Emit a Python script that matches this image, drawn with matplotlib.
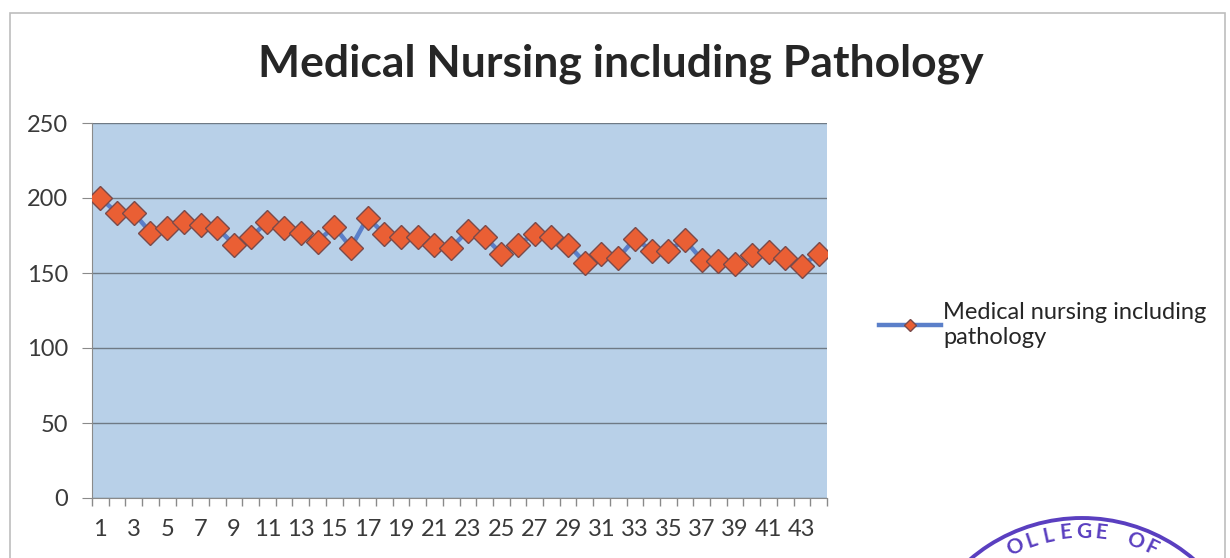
import matplotlib
matplotlib.use("Agg")
import matplotlib.pyplot as plt
from matplotlib.patches import Rectangle, Arc
import numpy as np

plt.rcParams['font.family'] = ['Lato', 'DejaVu Sans']

title = "Medical Nursing including Pathology"
series_name = "Medical nursing including\npathology"
categories = list(range(1, 45))
values = [200, 190, 190, 177, 180, 184, 182, 180, 169, 174,
          184, 180, 177, 171, 181, 167, 187, 176, 174, 174,
          169, 167, 178, 174, 163, 169, 176, 174, 169, 157,
          163, 160, 173, 165, 165, 172, 159, 158, 156, 162,
          164, 160, 155, 163]
yticks = [0, 50, 100, 150, 200, 250]

fig = plt.figure(figsize=(12.3, 5.58), dpi=100)
fig.patch.set_facecolor('white')

# outer chart border
fig.patches.append(Rectangle((10/1230, -0.02), 1215/1230, (558-13)/558 + 0.02,
                             transform=fig.transFigure, fill=False,
                             edgecolor='#bdbdbd', linewidth=1.2))

ax = fig.add_axes([92/1230, (558-498)/558, (827-92)/1230, (498-123)/558])
ax.set_facecolor('#b8d0e8')

x = np.arange(len(categories))
line, = ax.plot(x, values, color='#5b7fc9', linewidth=3.2, marker='D',
                markersize=12, markerfacecolor='#ea5f34',
                markeredgecolor='#7a4a4a', markeredgewidth=1.0,
                label=series_name, zorder=3)

ax.set_xlim(-0.5, len(categories) - 0.5)
ax.set_ylim(0, 250)
ax.set_yticks(yticks)
ax.set_yticklabels([str(v) for v in yticks])
ax.yaxis.grid(True, color='#6f7a85', linewidth=1.0)
ax.set_axisbelow(True)

# category ticks at boundaries, labels every other category
ax.set_xticks(np.arange(-0.5, len(categories) + 0.5, 1.0), minor=True)
ax.set_xticks(x[::2])
ax.set_xticklabels([str(c) for c in categories[::2]])
ax.tick_params(axis='x', which='major', length=0, labelsize=17,
               colors='#3a3a3a', pad=15)
ax.tick_params(axis='x', which='minor', length=6, color='#8a8a8a', width=1)
ax.tick_params(axis='y', length=7, color='#8a8a8a', labelsize=17,
               colors='#3a3a3a', pad=10)

for s in ['top', 'right']:
    ax.spines[s].set_visible(False)
ax.spines['left'].set_color('#8a8a8a')
ax.spines['bottom'].set_color('#8a8a8a')

fig.text(621/1230, 1 - 64/558, title, ha='center', va='center',
         fontsize=32, fontweight='bold', color='#262626')

leg = fig.legend(handles=[line], loc='center left',
                 bbox_to_anchor=(858/1230, 1 - 325/558), frameon=False,
                 fontsize=17, handlelength=2.6, handletextpad=0.1,
                 markerscale=0.55, labelspacing=0.2,
                 labelcolor='#262626')
for t in leg.get_texts():
    t.set_linespacing(1.25)

# partial stamp at bottom right
stamp_color = '#5a3fc0'
cx, cy, r = 1082, 690, 172
fig.patches.append(Arc((cx/1230, 1 - cy/558), 2*r/1230, 2*r/558,
                       theta1=45, theta2=135, transform=fig.transFigure,
                       color=stamp_color, linewidth=2.8))
letters = "OLLEGE OF"
angles = np.linspace(115, 64, len(letters))
for ch, a in zip(letters, angles):
    rr = r - 14
    px = cx + rr*np.cos(np.radians(a))
    py = cy - rr*np.sin(np.radians(a))
    fig.text(px/1230, 1 - py/558, ch, ha='center', va='center',
             rotation=a - 90, fontsize=15, fontweight='bold',
             color=stamp_color)

fig.savefig('out.png', dpi=100)
